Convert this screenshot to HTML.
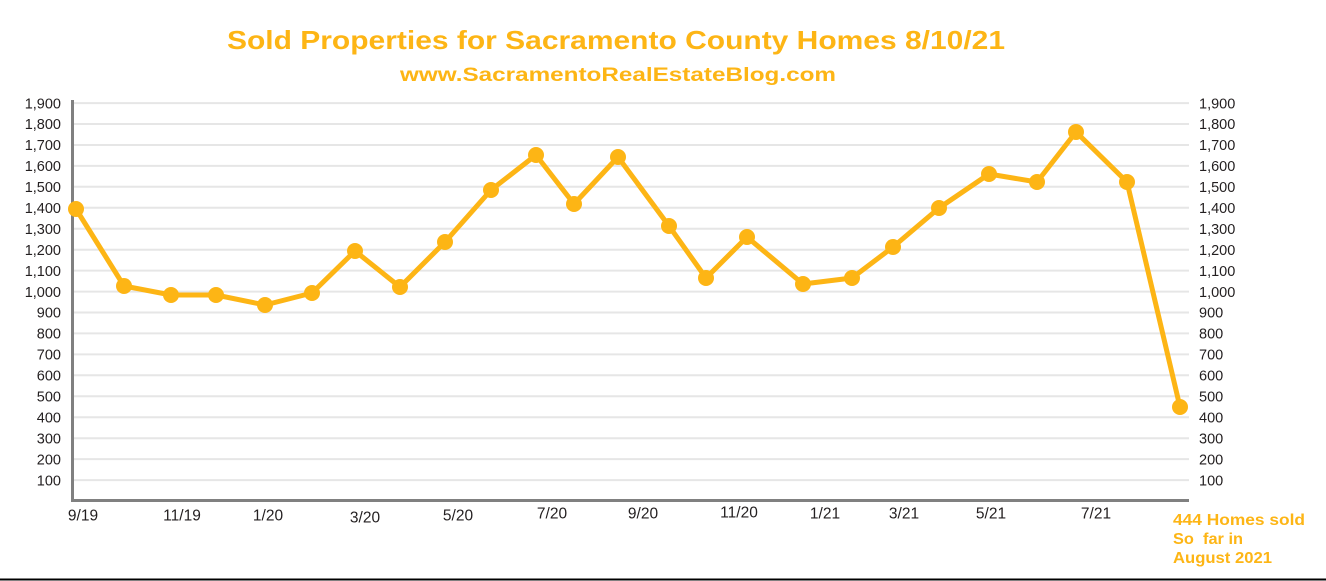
<!DOCTYPE html>
<html><head><meta charset="utf-8"><style>
html,body{margin:0;padding:0;background:#fff;}
svg{display:block;}
</style></head><body>
<svg width="1326" height="581" viewBox="0 0 1326 581" xmlns="http://www.w3.org/2000/svg">
<rect width="1326" height="581" fill="#fff"/>
<text x="616" y="49" text-anchor="middle" font-family="Liberation Sans, sans-serif" font-weight="bold" font-size="26" fill="#FDB515" textLength="778" lengthAdjust="spacingAndGlyphs">Sold Properties for Sacramento County Homes 8/10/21</text>
<text x="618" y="81" text-anchor="middle" font-family="Liberation Sans, sans-serif" font-weight="bold" font-size="19" fill="#FDB515" textLength="436" lengthAdjust="spacingAndGlyphs">www.SacramentoRealEstateBlog.com</text>
<g stroke="#e6e6e6" stroke-width="2">
<line x1="74" y1="103.1" x2="1189" y2="103.1"/>
<line x1="74" y1="124" x2="1189" y2="124"/>
<line x1="74" y1="145" x2="1189" y2="145"/>
<line x1="74" y1="165.9" x2="1189" y2="165.9"/>
<line x1="74" y1="186.8" x2="1189" y2="186.8"/>
<line x1="74" y1="207.8" x2="1189" y2="207.8"/>
<line x1="74" y1="228.7" x2="1189" y2="228.7"/>
<line x1="74" y1="249.7" x2="1189" y2="249.7"/>
<line x1="74" y1="270.6" x2="1189" y2="270.6"/>
<line x1="74" y1="291.6" x2="1189" y2="291.6"/>
<line x1="74" y1="312.5" x2="1189" y2="312.5"/>
<line x1="74" y1="333.4" x2="1189" y2="333.4"/>
<line x1="74" y1="354.4" x2="1189" y2="354.4"/>
<line x1="74" y1="375.3" x2="1189" y2="375.3"/>
<line x1="74" y1="396.3" x2="1189" y2="396.3"/>
<line x1="74" y1="417.2" x2="1189" y2="417.2"/>
<line x1="74" y1="438.2" x2="1189" y2="438.2"/>
<line x1="74" y1="459.1" x2="1189" y2="459.1"/>
<line x1="74" y1="480.1" x2="1189" y2="480.1"/>
</g>
<line x1="72.5" y1="100" x2="72.5" y2="501" stroke="#808080" stroke-width="3"/>
<line x1="71" y1="500.5" x2="1189" y2="500.5" stroke="#808080" stroke-width="3"/>
<g font-family="Liberation Sans, sans-serif" font-size="14.5" fill="#231f20" text-anchor="end">
<text x="61" y="108.3">1,900</text>
<text x="61" y="129.2">1,800</text>
<text x="61" y="150.2">1,700</text>
<text x="61" y="171.1">1,600</text>
<text x="61" y="192">1,500</text>
<text x="61" y="213">1,400</text>
<text x="61" y="233.9">1,300</text>
<text x="61" y="254.9">1,200</text>
<text x="61" y="275.8">1,100</text>
<text x="61" y="296.8">1,000</text>
<text x="61" y="317.7">900</text>
<text x="61" y="338.6">800</text>
<text x="61" y="359.6">700</text>
<text x="61" y="380.5">600</text>
<text x="61" y="401.5">500</text>
<text x="61" y="422.4">400</text>
<text x="61" y="443.4">300</text>
<text x="61" y="464.3">200</text>
<text x="61" y="485.3">100</text>
</g>
<g font-family="Liberation Sans, sans-serif" font-size="14.5" fill="#231f20" text-anchor="start">
<text x="1199" y="108.3">1,900</text>
<text x="1199" y="129.2">1,800</text>
<text x="1199" y="150.2">1,700</text>
<text x="1199" y="171.1">1,600</text>
<text x="1199" y="192">1,500</text>
<text x="1199" y="213">1,400</text>
<text x="1199" y="233.9">1,300</text>
<text x="1199" y="254.9">1,200</text>
<text x="1199" y="275.8">1,100</text>
<text x="1199" y="296.8">1,000</text>
<text x="1199" y="317.7">900</text>
<text x="1199" y="338.6">800</text>
<text x="1199" y="359.6">700</text>
<text x="1199" y="380.5">600</text>
<text x="1199" y="401.5">500</text>
<text x="1199" y="422.4">400</text>
<text x="1199" y="443.4">300</text>
<text x="1199" y="464.3">200</text>
<text x="1199" y="485.3">100</text>
</g>
<g font-family="Liberation Sans, sans-serif" font-size="15.5" fill="#231f20" text-anchor="middle">
<text x="83" y="520.5">9/19</text>
<text x="182" y="520.5">11/19</text>
<text x="268" y="520.5">1/20</text>
<text x="365" y="522.5">3/20</text>
<text x="458" y="520.5">5/20</text>
<text x="552" y="518.5">7/20</text>
<text x="643" y="518.5">9/20</text>
<text x="739" y="517.5">11/20</text>
<text x="825" y="518.5">1/21</text>
<text x="904" y="518.5">3/21</text>
<text x="991" y="518.5">5/21</text>
<text x="1096" y="518.5">7/21</text>
</g>
<polyline fill="none" stroke="#FDB515" stroke-width="5" stroke-linejoin="round" stroke-linecap="round"
points="76,209 124,286 171,295 216,295 265,305 312,293 355,251 400,287 445,242 491,190 536,155 574,204 618,157 669,226 706,278 747,237 803,284 852,278 893,247 939,208 989,174 1037,182 1076,132 1127,182 1180,407"/>
<g fill="#FDB515">
<circle cx="76" cy="209" r="8"/><circle cx="124" cy="286" r="8"/><circle cx="171" cy="295" r="8"/>
<circle cx="216" cy="295" r="8"/><circle cx="265" cy="305" r="8"/><circle cx="312" cy="293" r="8"/>
<circle cx="355" cy="251" r="8"/><circle cx="400" cy="287" r="8"/><circle cx="445" cy="242" r="8"/>
<circle cx="491" cy="190" r="8"/><circle cx="536" cy="155" r="8"/><circle cx="574" cy="204" r="8"/>
<circle cx="618" cy="157" r="8"/><circle cx="669" cy="226" r="8"/><circle cx="706" cy="278" r="8"/>
<circle cx="747" cy="237" r="8"/><circle cx="803" cy="284" r="8"/><circle cx="852" cy="278" r="8"/>
<circle cx="893" cy="247" r="8"/><circle cx="939" cy="208" r="8"/><circle cx="989" cy="174" r="8"/>
<circle cx="1037" cy="182" r="8"/><circle cx="1076" cy="132" r="8"/><circle cx="1127" cy="182" r="8"/>
<circle cx="1180" cy="407" r="8"/>
</g>
<g font-family="Liberation Sans, sans-serif" font-weight="bold" font-size="16" fill="#FDB515">
<text x="1173" y="525" textLength="132" lengthAdjust="spacingAndGlyphs">444 Homes sold</text>
<text x="1173" y="544" textLength="70" lengthAdjust="spacingAndGlyphs" xml:space="preserve">So  far in</text>
<text x="1173" y="563" textLength="99" lengthAdjust="spacingAndGlyphs">August 2021</text>
</g>
<line x1="0" y1="579.5" x2="1326" y2="579.5" stroke="#000" stroke-width="2"/>
</svg>
</body></html>
